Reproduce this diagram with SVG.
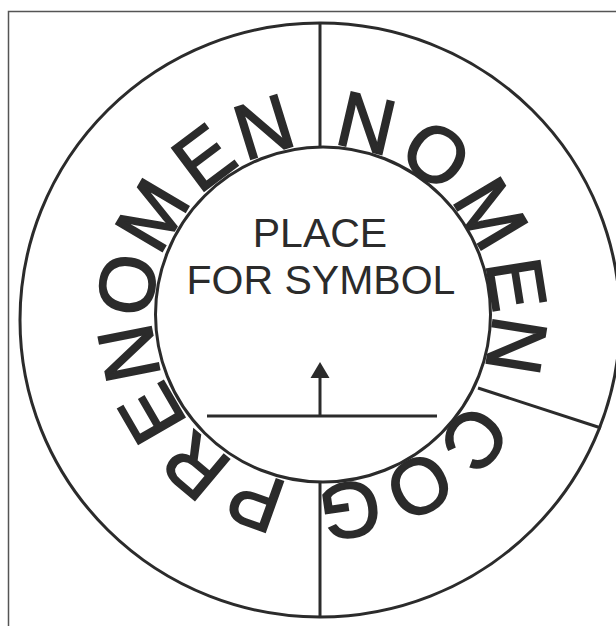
<svg xmlns="http://www.w3.org/2000/svg" width="616" height="626" viewBox="0 0 616 626">
<style>
.ln{fill:none;stroke:#2b2b2b;stroke-width:3}
.ring{font-family:"Liberation Sans",Arial,sans-serif;font-size:78px;fill:#2b2b2b;stroke:#2b2b2b;stroke-width:1.8;stroke-linejoin:miter;text-anchor:middle}
.lbl{font-family:"Liberation Sans",Arial,sans-serif;font-size:41px;fill:#2b2b2b;text-anchor:middle}
</style>
<rect width="616" height="626" fill="#fff"/>
<rect x="8.5" y="11.5" width="640" height="640" fill="none" stroke="#555" stroke-width="1.5"/>
<g id="outer"><ellipse class="ln" cx="320" cy="320" rx="300" ry="297"/></g>
<g id="inner"><circle class="ln" cx="323" cy="314.5" r="167.5" stroke-width="2.6"/></g>
<g id="connectors">
<line class="ln" x1="320" y1="23" x2="320" y2="147"/>
<line class="ln" x1="320" y1="482" x2="320" y2="617"/>
<line class="ln" x1="478" y1="388" x2="601" y2="428"/>
<line class="ln" x1="207" y1="416" x2="437" y2="416"/>
<line class="ln" x1="320" y1="416" x2="320" y2="376"/>
<polygon points="320,362 310.5,378 329.5,378" fill="#2b2b2b"/>
</g>
<g id="symbol">
<text class="lbl" x="320" y="247">PLACE</text>
<text class="lbl" x="321" y="294">FOR SYMBOL</text>
</g>
<g id="prenomen" class="ring">
<text x="322" y="145" transform="rotate(199.7 322 315)">P</text>
<text x="322" y="145" transform="rotate(220 322 315)">R</text>
<text x="322" y="145" transform="rotate(239.9 322 315)">E</text>
<text x="322" y="145" transform="rotate(258.8 322 315)">N</text>
<text x="322" y="145" transform="rotate(278.9 322 315)">O</text>
<text x="322" y="145" transform="rotate(300.5 322 315)">M</text>
<text x="322" y="145" transform="rotate(323.1 322 315)">E</text>
<text x="322" y="145" transform="rotate(342.8 322 315)">N</text>
</g>
<g id="nomen" class="ring">
<text x="322" y="145" transform="rotate(13.1 322 315)">N</text>
<text x="322" y="145" transform="rotate(35.5 322 315)">O</text>
<text x="322" y="145" transform="rotate(59 322 315)">M</text>
<text x="322" y="145" transform="rotate(81 322 315)">E</text>
<text x="322" y="145" transform="rotate(99 322 315)">N</text>
</g>
<g id="cog" class="ring">
<text x="322" y="145" transform="rotate(129 322 315)">C</text>
<text x="322" y="145" transform="rotate(150.3 322 315)">O</text>
<text x="322" y="145" transform="rotate(171.8 322 315)">G</text>
</g>
</svg>
